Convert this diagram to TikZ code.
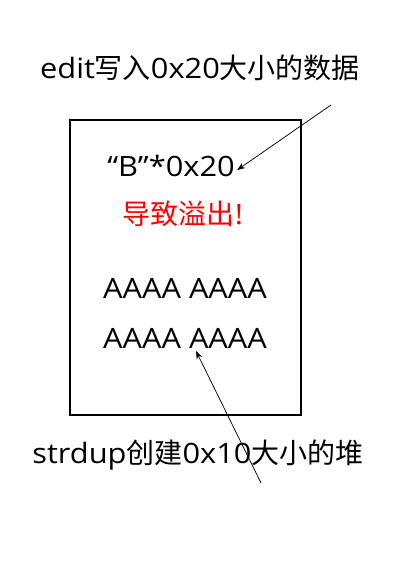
\documentclass[tikz,border=0pt]{standalone}
\usepackage{fontspec}
\setmainfont{Open Sans}[FakeStretch=1.1]
\newfontfamily\cjk{Noto Sans CJK SC}
\usetikzlibrary{arrows.meta}

\begin{document}
\begin{tikzpicture}[x=1pt, y=-1pt, thick]
        % Define a style for the nodes
        \tikzstyle{txt} = [font=\fontsize{28}{32}\selectfont, inner sep=1pt, anchor=base]
        \tikzstyle{heapbox} = [rectangle, draw, line width=1.5pt, minimum width=231pt, minimum height=295pt, inner sep=0pt]
        \tikzstyle{arrow} = [-{Stealth[length=8pt, width=6pt]}, line width=0.75pt]

        \useasboundingbox (0,0) rectangle (414,582);

        % Nodes
        \node (heap) [heapbox] at (185.5,267.5) {};
        \node (edit) [txt] at (200,78) {edit{\cjk 写入}0x20{\cjk 大小的数据}};
        \node (bstr) [txt] at (171,176) {“B”*0x20};
        \node (ovf) [txt, text=red] at (183,224) {{\cjk 导致溢出}!};
        \node (a1) [txt] at (185,298) {AAAA AAAA};
        \node (a2) [txt] at (185,348) {AAAA AAAA};
        \node (strdup) [txt] at (198,463) {strdup{\cjk 创建}0x10{\cjk 大小的堆}};
        \coordinate (editfrom) at (331,105);
        \coordinate (strdupfrom) at (261,483);

        % Edges
        \draw [arrow] (editfrom) -- ([xshift=1pt, yshift=6pt]bstr.base east);
        \draw [arrow] (strdupfrom) -- ([xshift=11pt, yshift=-3pt]a2.base);
    \end{tikzpicture}
\end{document}
